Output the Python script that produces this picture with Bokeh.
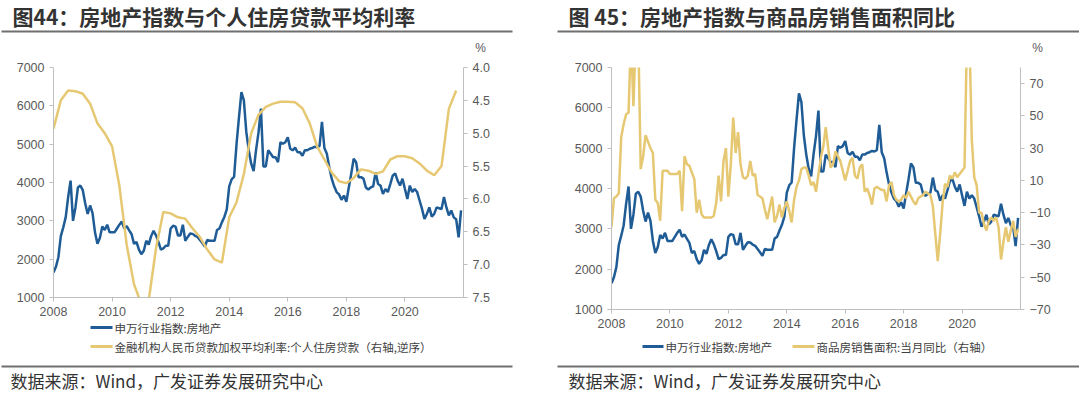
from bokeh.plotting import figure
from bokeh.models import (Range1d, LinearAxis, FixedTicker, NumeralTickFormatter, Spacer)
from bokeh.layouts import row, column
from bokeh.embed import file_html
from bokeh.resources import INLINE
from bokeh.core.properties import value

# ---------------- data ----------------
year_ticks = [2008, 2010, 2012, 2014, 2016, 2018, 2020]
index_ticks = [1000, 2000, 3000, 4000, 5000, 6000, 7000]
rate_ticks = [4.0, 4.5, 5.0, 5.5, 6.0, 6.5, 7.0, 7.5]
yoy_ticks = [-70, -50, -30, -10, 10, 30, 50, 70]

# 申万行业指数:房地产 (monthly, starting Jan 2008 on the chart's axis)
sw_index = [
    1650, 1800, 2050, 2600, 2830, 3090, 3620, 4050, 3000, 3350, 3870, 3920,
    3800, 3450, 3180, 3400, 3200, 2700, 2400, 2550, 2850, 2760, 2900, 2700,
    2700, 2700, 2800, 2900, 2980, 2800, 2860, 2750, 2650, 2400, 2450, 2250,
    2130, 2220, 2480, 2380, 2600, 2740, 2620, 2450, 2250, 2280, 2350, 2350,
    2800, 2870, 2850, 2620, 2620, 2900, 2480, 2580, 2670, 2660, 2610, 2580,
    2500, 2420, 2330, 2500, 2480, 2480, 2480, 2760, 2800, 2960, 3100, 3300,
    3900, 4080, 4150, 5000, 5700, 6360, 6140, 5320, 4840, 4490, 4300, 4850,
    5300, 5930, 4420, 4420, 4840, 4750, 4660, 4660, 4530, 5050, 5010, 5050,
    5180, 4880, 4840, 4910, 4790, 4790, 4700, 4840, 4840, 4880, 4900, 4930,
    4920, 4950, 5580, 4900, 4750, 4400, 4100, 3900, 3750, 3690, 3550, 3660,
    3500, 3870, 4230, 4620, 4530, 4140, 4140, 4100, 3870, 3820, 3870, 3900,
    4270, 3960, 3920, 3700, 3830, 3750, 3960, 4180, 4240, 4050, 3920, 4100,
    3830, 3570, 3920, 3750, 3830, 3750, 3530, 3310, 3050, 3180, 3350, 3110,
    3180, 3350, 3330, 3310, 3620, 3350, 3140, 3270, 3090, 3040, 2570, 3270,
]

# 金融机构人民币贷款加权平均利率:个人住房贷款 (quarterly, %)
loan_rate = [
    4.93, 4.50, 4.35, 4.36, 4.40, 4.55, 4.85, 5.00,
    5.20, 5.80, 6.70, 7.30, 7.60, 7.55, 6.75, 6.20,
    6.22, 6.28, 6.30, 6.45, 6.58, 6.77, 6.92, 6.97,
    6.28, 6.05, 5.62, 5.00, 4.72, 4.60, 4.55, 4.52,
    4.52, 4.53, 4.62, 4.85, 5.20, 5.40, 5.60, 5.73,
    5.76, 5.68, 5.55, 5.57, 5.62, 5.58, 5.40, 5.35,
    5.35, 5.38, 5.46, 5.57, 5.64, 5.50, 4.63, 4.35,
]

# 商品房销售面积:当月同比 (monthly, %)
sales_yoy = [
    -19, -1, 0, 2, 37, 45, 51, 52, 100, 56, 100, 100,
    17, 25, 38, 34, 30, 27, -2, -4, -15, 16, 16, 16,
    14, 14, 14, 14, 16, -9, 25, 20, 19, 15, 11, -10,
    -2, -11, -13, -13, -13, -13, -12, -4, 13, -3, 22, 30,
    0, 20, 49, 27, 40, 20, 12, 11, 13, 22, 13, 14,
    1, 0, -1, -8, -14, -7, 0, -16, -12, -5, -13, -7,
    -3, -9, -16, -2, 6, 10, 17, 18, 18, 13, 7, 9,
    3, 14, 24, 31, 43, 30, 18, 20, 28, 25, 22, 16,
    10, 16, 22, 24, 13, 11, 18, 20, 3, 5, 1, -5,
    5, 6, 5, 4, 4, -3, 7, 9, 1, -2, -3, -2,
    1, -1, 3, 0, -3, -5, -1, 0, 1, 3, 2, 1,
    -6, -23, -40, -23, -4, 8, 6, 13, 11, 15, 12, 14,
    16, 18, 100, 100, 35, 12, 7, -10, -10, -17, -21, -15,
    -13, -15, -13, -19, -39, -28, -19, -28, -21, -15, -25, -20,
]

month_x = [2008 + i / 12 for i in range(len(sw_index))]
quarter_x = [2008 + i / 4 for i in range(len(loan_rate))]
yoy_x = [2008 + i / 12 for i in range(len(sales_yoy))]

title_left = "图44：房地产指数与个人住房贷款平均利率"
title_right = "图 45：房地产指数与商品房销售面积同比"
legend_blue = "申万行业指数:房地产"
legend_rate = "金融机构人民币贷款加权平均利率:个人住房贷款（右轴,逆序）"
legend_yoy = "商品房销售面积:当月同比（右轴）"
source_text = "数据来源：Wind，广发证券发展研究中心"

# ---------------- style ----------------
BLUE = "#1f5c96"
YELLOW = "#e6c873"
AXIS = "#bfbfbf"
TICKTXT = "#595959"
RULE = "#6f6f6f"
CJK = "Noto Sans CJK SC"
LAT = "Liberation Sans"


def style_axis(ax):
    ax.axis_line_color = AXIS
    ax.major_tick_line_color = AXIS
    ax.minor_tick_line_color = None
    ax.major_tick_out = 4
    ax.major_tick_in = 0
    ax.major_label_text_font = LAT
    ax.major_label_text_font_size = "12.5px"
    ax.major_label_text_color = TICKTXT
    ax.major_label_standoff = 5


def deco_fig(x0, x1, y0, y1):
    """A blank strip whose data coordinates equal page pixels (inset 1px so it
    does not share edges with the chart figures)."""
    h = y1 - y0
    p = figure(width=x1 - x0 - 2, height=h,
               x_range=Range1d(x0 + 1, x1 - 1), y_range=Range1d(y1, y0),
               x_axis_location=None, y_axis_location=None,
               output_backend="svg", toolbar_location=None, min_border=0)
    p.xgrid.visible = False
    p.ygrid.visible = False
    p.outline_line_color = None
    return p


def wrap(p):
    h = p.height
    return row(Spacer(width=1, height=h), p, Spacer(width=1, height=h), spacing=0)


def txt(p, x, y, s, size, color, bold=False, font=CJK, align="left"):
    p.text(x=[x], y=[y], text=[s], text_font=value(font), text_font_size=value(f"{size}px"),
           text_color=color, text_font_style="bold" if bold else "normal",
           text_align=align, text_baseline="middle")


def rule(p, x0, x1, y, w, color):
    p.segment(x0=[x0], y0=[y], x1=[x1], y1=[y], line_color=color, line_width=w)


def chart_fig(x0, x1, y0, y1, fl, fr, ft, fb):
    p = figure(width=x1 - x0, height=y1 - y0,
               x_range=Range1d(2008, 2022), y_range=Range1d(1000, 7000),
               output_backend="svg", toolbar_location=None,
               min_border_left=fl - x0, min_border_right=x1 - fr,
               min_border_top=ft - y0, min_border_bottom=y1 - fb)
    p.xgrid.visible = False
    p.ygrid.visible = False
    p.outline_line_color = None
    p.xaxis.ticker = FixedTicker(ticks=year_ticks)
    p.yaxis.ticker = FixedTicker(ticks=index_ticks)
    style_axis(p.xaxis[0])
    style_axis(p.yaxis[0])
    return p


# ---------------- left panel ----------------
h1 = deco_fig(0, 540, 0, 56)
txt(h1, 12, 15, title_left, 21, "#333333", bold=True)
rule(h1, 0, 512, 31, 2, RULE)
txt(h1, 480, 47, "%", 12, TICKTXT, font=LAT, align="center")

p1 = chart_fig(0, 540, 56, 320, 53, 463, 67, 297)
p1.extra_y_ranges = {"rate": Range1d(7.5, 4.0)}
ax1 = LinearAxis(y_range_name="rate", ticker=FixedTicker(ticks=rate_ticks),
                 formatter=NumeralTickFormatter(format="0.0"))
style_axis(ax1)
p1.add_layout(ax1, "right")
p1.line(month_x, sw_index, line_color=BLUE, line_width=2.5)
p1.line(quarter_x, loan_rate, line_color=YELLOW, line_width=2.5, y_range_name="rate")

f1 = deco_fig(0, 540, 320, 393)
rule(f1, 90, 112, 327, 3, BLUE)
txt(f1, 114, 327, legend_blue, 11.5, "#404040")
rule(f1, 90, 112, 346, 3, YELLOW)
txt(f1, 114, 346, legend_rate, 11.5, "#404040")
rule(f1, 0, 512, 366, 2, RULE)
txt(f1, 10, 380, source_text, 17, "#333333")

# ---------------- right panel ----------------
h2 = deco_fig(540, 1080, 0, 56)
txt(h2, 568, 15, title_right, 21, "#333333", bold=True)
rule(h2, 557, 1080, 31, 2, RULE)
txt(h2, 1037, 47, "%", 12, TICKTXT, font=LAT, align="center")

p2 = chart_fig(540, 1080, 56, 335, 611, 1020, 67, 309)
p2.extra_y_ranges = {"yoy": Range1d(-70, 80)}
ax2 = LinearAxis(y_range_name="yoy", ticker=FixedTicker(ticks=yoy_ticks))
style_axis(ax2)
p2.add_layout(ax2, "right")
p2.line(month_x, sw_index, line_color=BLUE, line_width=2.5)
p2.line(yoy_x, sales_yoy, line_color=YELLOW, line_width=2.5, y_range_name="yoy")

f2 = deco_fig(540, 1080, 335, 393)
rule(f2, 642, 663, 346, 3, BLUE)
txt(f2, 665, 346, legend_blue, 11.5, "#404040")
rule(f2, 792, 814, 346, 3, YELLOW)
txt(f2, 816, 346, legend_yoy, 11.5, "#404040")
rule(f2, 557, 1080, 366, 2, RULE)
txt(f2, 568, 380, source_text, 17, "#333333")

layout = row(column(wrap(h1), p1, wrap(f1), spacing=0),
             column(wrap(h2), p2, wrap(f2), spacing=0), spacing=0)
open("out.html", "w").write(file_html(layout, INLINE))
